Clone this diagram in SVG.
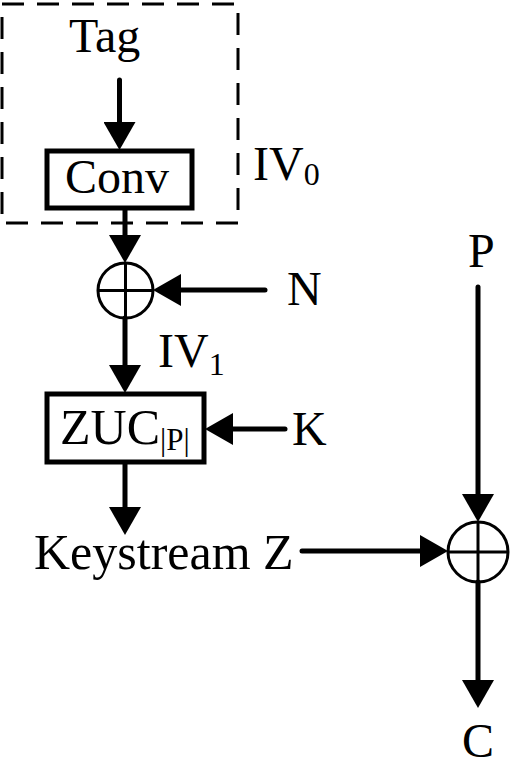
<svg xmlns="http://www.w3.org/2000/svg" width="510" height="773" viewBox="0 0 510 773">
<style>
text{font-family:"Liberation Serif","Times New Roman",serif;fill:#000}
.t{font-size:48px}
.tl{font-size:50px}
.s{font-size:32px}
.ss{font-size:31px}
.box{fill:#fff;stroke:#000;stroke-width:5}
.xor{fill:none;stroke:#000;stroke-width:3}
.c{stroke:#000;stroke-width:5;fill:none;stroke-linecap:round;marker-end:url(#ah)}
</style>
<defs>
<marker id="ah" markerUnits="userSpaceOnUse" viewBox="0 0 28 32" refX="0" refY="16" markerWidth="28" markerHeight="32" orient="auto">
<path d="M0,0 L28,16 L0,32 Z" fill="#000"/>
</marker>
</defs>
<rect id="iv0-region" x="2" y="4" width="236" height="219" fill="none" stroke="#000" stroke-width="3" stroke-dasharray="22 13"/>
<g id="connectors">
<line class="c" x1="119.5" y1="80" x2="119.5" y2="122"/>
<line class="c" x1="125" y1="209" x2="125" y2="235"/>
<line class="c" x1="265" y1="290" x2="181" y2="290"/>
<line class="c" x1="125" y1="318" x2="125" y2="365"/>
<line class="c" x1="285" y1="429" x2="233" y2="429"/>
<line class="c" x1="125" y1="462" x2="125" y2="507"/>
<line class="c" x1="302" y1="551" x2="420" y2="551"/>
<line class="c" x1="478" y1="287" x2="478" y2="494"/>
<line class="c" x1="478" y1="582" x2="478" y2="680"/>
</g>
<g id="tag"><text class="t" x="69" y="52">Tag</text></g>
<g id="conv">
<rect class="box" x="47" y="151" width="145" height="57"/>
<text class="t" x="65" y="193">Conv</text>
</g>
<g id="iv0"><text class="t" x="253" y="180">IV<tspan class="s" dy="5">0</tspan></text></g>
<g id="xor1">
<circle class="xor" cx="125.5" cy="290.5" r="27.5"/>
<line x1="98" y1="290.5" x2="153" y2="290.5" stroke="#000" stroke-width="3"/>
<line x1="125.5" y1="263" x2="125.5" y2="318" stroke="#000" stroke-width="3"/>
</g>
<g id="n"><text class="t" x="287" y="305">N</text></g>
<g id="iv1"><text class="t" x="158" y="367">IV<tspan class="s" dy="8">1</tspan></text></g>
<g id="zuc">
<rect class="box" x="47" y="394" width="157" height="68"/>
<text class="tl" x="60" y="444">ZUC<tspan class="ss" dy="6">|P|</tspan></text>
</g>
<g id="k"><text class="t" x="292" y="445">K</text></g>
<g id="keystream"><text class="tl" x="34" y="569">Keystream Z</text></g>
<g id="p"><text class="t" x="468" y="267">P</text></g>
<g id="xor2">
<circle class="xor" cx="478" cy="552" r="30"/>
<line x1="448" y1="552" x2="508" y2="552" stroke="#000" stroke-width="3"/>
<line x1="478" y1="522" x2="478" y2="582" stroke="#000" stroke-width="3"/>
</g>
<g id="c"><text class="t" x="462" y="757">C</text></g>
</svg>
